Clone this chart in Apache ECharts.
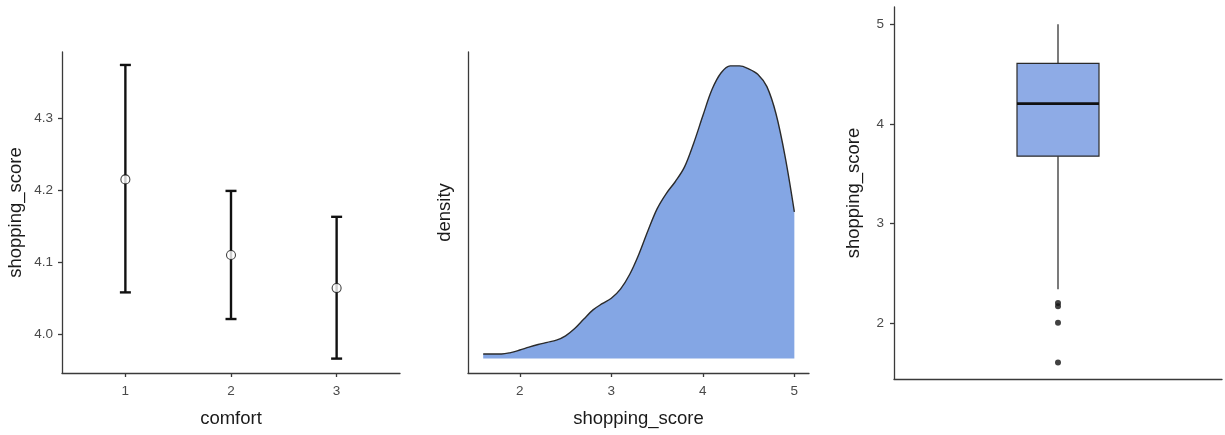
<!DOCTYPE html>
<html>
<head>
<meta charset="utf-8">
<script src="https://cdn.jsdelivr.net/npm/echarts@6/dist/echarts.min.js"></script>
<style>
  html, body { margin: 0; padding: 0; background: #fff; }
  #chart { width: 1225px; height: 435px; }
</style>
</head>
<body>
<div id="chart"></div>
<script>
// Panel 1: mean shopping_score with error bars by comfort level
const comfortLevels = [1, 2, 3];
const comfortMean = [4.215, 4.110, 4.064];
const comfortLower = [4.058, 4.021, 3.966];
const comfortUpper = [4.374, 4.199, 4.163];
const meanTicks = [4.0, 4.1, 4.2, 4.3];

// Panel 2: density estimate of shopping_score
const densityX = [1.6, 1.7, 1.8, 1.9, 2.0, 2.1, 2.2, 2.3, 2.4, 2.5, 2.6, 2.7, 2.8, 2.9,
  3.0, 3.1, 3.2, 3.3, 3.4, 3.5, 3.6, 3.7, 3.8, 3.9, 4.0, 4.1, 4.2, 4.3, 4.4, 4.5,
  4.6, 4.7, 4.8, 4.9, 5.0];
const densityY = [0.012, 0.012, 0.012, 0.016, 0.023, 0.031, 0.038, 0.044, 0.050, 0.062,
  0.082, 0.108, 0.133, 0.150, 0.165, 0.190, 0.230, 0.285, 0.350, 0.410, 0.452, 0.485,
  0.525, 0.590, 0.665, 0.737, 0.783, 0.802, 0.802, 0.794, 0.779, 0.745, 0.670, 0.552, 0.402];
const scoreTicks = [2, 3, 4, 5];

// Panel 3: boxplot of shopping_score [lower whisker, Q1, median, Q3, upper whisker]
const boxStats = [2.338, 3.675, 4.203, 4.608, 5.0];
const boxOutliers = [2.2, 2.167, 2.0, 1.6];

const AXIS_COLOR = '#3a3a3a';
const LABEL_COLOR = '#4a4a4a';
const TITLE_COLOR = '#1a1a1a';
const FONT = '"Liberation Sans", Arial, Helvetica, sans-serif';
const TICK_FONT = 13.5;
const TITLE_FONT = 18.5;

function axisLine() {
  return { show: true, onZero: false, lineStyle: { color: AXIS_COLOR, width: 1.3 } };
}
function ticks(values) {
  return { show: true, length: 4, lineStyle: { color: AXIS_COLOR, width: 1.3 }, customValues: values };
}
function labels(values, margin, formatter) {
  const l = { color: LABEL_COLOR, fontSize: TICK_FONT, fontFamily: FONT, margin: margin, customValues: values };
  if (formatter) l.formatter = formatter;
  return l;
}
const nameStyle = { color: TITLE_COLOR, fontSize: TITLE_FONT, fontFamily: FONT };

const chart = echarts.init(document.getElementById('chart'), null, { renderer: 'canvas' });

const option = {
  backgroundColor: '#ffffff',
  animation: false,
  grid: [
    { left: 62, top: 52, width: 338, height: 321 },
    { left: 468, top: 52, width: 341, height: 321 },
    { left: 894, top: 7, width: 328, height: 372 }
  ],
  xAxis: [
    {
      gridIndex: 0, type: 'value', min: 0.4, max: 3.6,
      name: 'comfort', nameLocation: 'middle', nameGap: 36, nameTextStyle: nameStyle,
      axisLine: axisLine(), axisTick: ticks(comfortLevels), axisLabel: labels(comfortLevels, 11),
      splitLine: { show: false }
    },
    {
      gridIndex: 1, type: 'value', min: 1.434, max: 5.16,
      name: 'shopping_score', nameLocation: 'middle', nameGap: 36, nameTextStyle: nameStyle,
      axisLine: axisLine(), axisTick: ticks(scoreTicks), axisLabel: labels(scoreTicks, 11),
      splitLine: { show: false }
    },
    {
      gridIndex: 2, type: 'value', min: 0, max: 2,
      axisLine: axisLine(), axisTick: { show: false }, axisLabel: { show: false },
      splitLine: { show: false }
    }
  ],
  yAxis: [
    {
      gridIndex: 0, type: 'value', min: 3.946, max: 4.392,
      name: 'shopping_score', nameLocation: 'middle', nameGap: 37, nameTextStyle: nameStyle,
      axisLine: axisLine(), axisTick: ticks(meanTicks),
      axisLabel: labels(meanTicks, 9, v => Number(v).toFixed(1)),
      splitLine: { show: false }
    },
    {
      gridIndex: 1, type: 'value', min: -0.04, max: 0.84,
      name: 'density', nameLocation: 'middle', nameGap: 14, nameTextStyle: nameStyle,
      axisLine: axisLine(), axisTick: { show: false }, axisLabel: { show: false },
      splitLine: { show: false }
    },
    {
      gridIndex: 2, type: 'value', min: 1.435, max: 5.174,
      name: 'shopping_score', nameLocation: 'middle', nameGap: 31, nameTextStyle: nameStyle,
      axisLine: axisLine(), axisTick: ticks(scoreTicks), axisLabel: labels(scoreTicks, 10),
      splitLine: { show: false }
    }
  ],
  series: [
    // error bars
    {
      type: 'custom',
      xAxisIndex: 0, yAxisIndex: 0,
      data: comfortLevels.map((c, i) => [c, comfortLower[i], comfortUpper[i]]),
      encode: { x: 0, y: [1, 2] },
      renderItem: function (params, api) {
        const x = api.value(0);
        const lo = api.coord([x, api.value(1)]);
        const hi = api.coord([x, api.value(2)]);
        const cap = 5.5;
        const style = { stroke: '#111', lineWidth: 2.4 };
        return {
          type: 'group',
          children: [
            { type: 'line', shape: { x1: lo[0], y1: lo[1], x2: hi[0], y2: hi[1] }, style },
            { type: 'line', shape: { x1: lo[0] - cap, y1: lo[1], x2: lo[0] + cap, y2: lo[1] }, style },
            { type: 'line', shape: { x1: hi[0] - cap, y1: hi[1], x2: hi[0] + cap, y2: hi[1] }, style }
          ]
        };
      },
      z: 2
    },
    // means
    {
      type: 'scatter',
      xAxisIndex: 0, yAxisIndex: 0,
      data: comfortLevels.map((c, i) => [c, comfortMean[i]]),
      symbol: 'circle',
      symbolSize: 9,
      itemStyle: { color: '#ffffff', borderColor: '#111', borderWidth: 1.1 },
      z: 3
    },
    // density
    {
      type: 'line',
      xAxisIndex: 1, yAxisIndex: 1,
      data: densityX.map((x, i) => [x, densityY[i]]),
      smooth: 0.35,
      showSymbol: false,
      lineStyle: { color: '#2b2b2b', width: 1.4 },
      areaStyle: { color: '#84a6e4', opacity: 1 }
    },
    // boxplot
    {
      type: 'custom',
      xAxisIndex: 2, yAxisIndex: 2,
      data: [[1].concat(boxStats)],
      encode: { x: 0, y: [1, 2, 3, 4, 5] },
      renderItem: function (params, api) {
        const x = api.value(0);
        const half = 0.25;
        const pMin = api.coord([x, api.value(1)]);
        const pQ1 = api.coord([x, api.value(2)]);
        const pMed = api.coord([x, api.value(3)]);
        const pQ3 = api.coord([x, api.value(4)]);
        const pMax = api.coord([x, api.value(5)]);
        const xl = api.coord([x - half, api.value(3)])[0];
        const xr = api.coord([x + half, api.value(3)])[0];
        const line = { stroke: '#222', lineWidth: 1.2 };
        return {
          type: 'group',
          children: [
            { type: 'line', shape: { x1: pMax[0], y1: pMax[1], x2: pQ3[0], y2: pQ3[1] }, style: line },
            { type: 'line', shape: { x1: pQ1[0], y1: pQ1[1], x2: pMin[0], y2: pMin[1] }, style: line },
            { type: 'rect', shape: { x: xl, y: pQ3[1], width: xr - xl, height: pQ1[1] - pQ3[1] },
              style: { fill: '#8eabe6', stroke: '#2a2a2a', lineWidth: 1.2 } },
            { type: 'line', shape: { x1: xl, y1: pMed[1], x2: xr, y2: pMed[1] },
              style: { stroke: '#111', lineWidth: 2.6 } }
          ]
        };
      }
    },
    // outliers
    {
      type: 'scatter',
      xAxisIndex: 2, yAxisIndex: 2,
      data: boxOutliers.map(v => [1, v]),
      symbol: 'circle',
      symbolSize: 6,
      itemStyle: { color: '#111' }
    }
  ]
};

chart.setOption(option);
</script>
</body>
</html>
